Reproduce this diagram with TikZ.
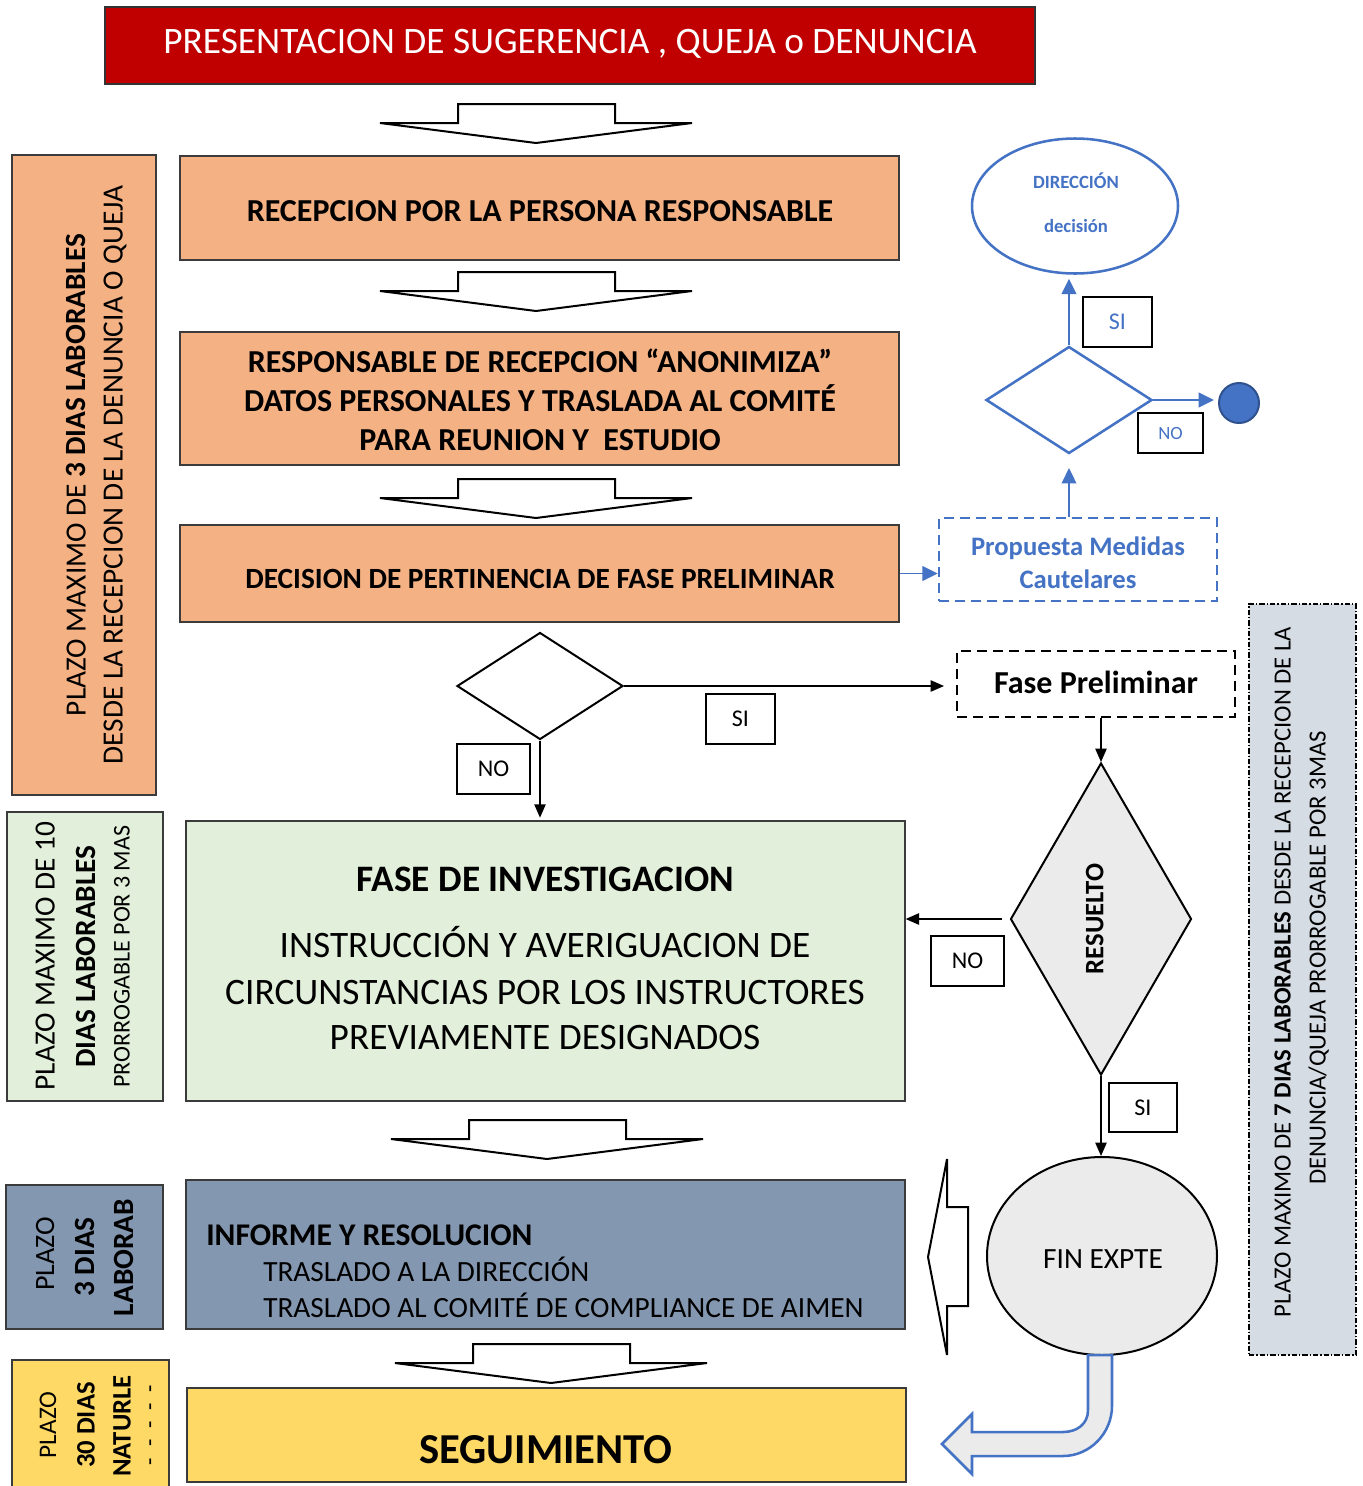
\documentclass[tikz,border=0pt]{standalone}
\usepackage{fontspec}
\setmainfont{Carlito}
\usetikzlibrary{shapes.geometric,arrows.meta,fit,calc}
\definecolor{tred}{HTML}{C00000}
\definecolor{torange}{HTML}{F4B183}
\definecolor{tgreen}{HTML}{E2EFDA}
\definecolor{tslate}{HTML}{8497B0}
\definecolor{tyellow}{HTML}{FFD966}
\definecolor{tgrey}{HTML}{EBEBEB}
\definecolor{tlav}{HTML}{D6DCE4}
\definecolor{tblue}{HTML}{4472C4}
\definecolor{tdblue}{HTML}{2F528F}
\definecolor{tedge}{HTML}{3B3B3B}
\newcommand\fsz[1]{\fontsize{#1}{#1}\selectfont}
\newcommand\blockdown[2]{%
  \draw[blockarrow] (#1+78,#2) -- (#1+235,#2) -- (#1+235,#2+19) -- (#1+312,#2+19)
    -- (#1+156,#2+39) -- (#1,#2+19) -- (#1+78,#2+19) -- cycle;}
\tikzset{
  box/.style={draw=tedge, line width=1pt, inner sep=0pt},
  txt/.style={inner sep=0pt, anchor=base},
  ctxt/.style={inner sep=0pt, anchor=center},
  vtxt/.style={inner sep=0pt, anchor=base, rotate=90},
  tag/.style={draw=black, line width=1pt, fill=white, inner sep=0pt},
  conn/.style={line width=1pt, -{Triangle[length=10pt,width=8.5pt]}},
  bconn/.style={draw=tblue, line width=1.3pt, -{Triangle[length=11.5pt,width=11pt]}},
  blockarrow/.style={draw=black, fill=white, line width=1.5pt, line join=miter},
  dsize/.style 2 args={minimum width=#1*0.75pt, minimum height=#2*0.75pt},
}
\begin{document}
\begin{tikzpicture}[x=0.75pt,y=-0.75pt]
\useasboundingbox[fill=white] (0,0) rectangle (1363,1486);

% ---------- title ----------
\node[box, draw=black!80, fill=tred, fit={(105,7) (1035,84)}] (title) {};
\node[txt, text=white, font=\fsz{28}] (titlet) at (570,53.5) {PRESENTACION DE SUGERENCIA , QUEJA o DENUNCIA};

% ---------- block arrows ----------
\blockdown{380}{104}
\blockdown{380}{272}
\blockdown{380}{479}
\blockdown{391}{1120}
\blockdown{395}{1344}

% ---------- orange boxes ----------
\node[box, fill=torange, fit={(180,156) (899,260)}] (b1) {};
\node[txt, font=\fsz{24}\bfseries] (b1t) at (540,221) {RECEPCION POR LA PERSONA RESPONSABLE};
\node[box, fill=torange, fit={(180,332) (899,465)}] (b2) {};
\node[txt, font=\fsz{24}\bfseries] (b2a) at (540,372) {RESPONSABLE DE RECEPCION “ANONIMIZA”};
\node[txt, font=\fsz{24}\bfseries] (b2b) at (540,411) {DATOS PERSONALES Y TRASLADA AL COMITÉ};
\node[txt, font=\fsz{24}\bfseries] (b2c) at (540,450) {PARA REUNION Y\ \ ESTUDIO};
\node[box, fill=torange, fit={(180,525) (899,622)}] (b3) {};
\node[txt, font=\fsz{22}\bfseries] (b3t) at (540,588) {DECISION DE PERTINENCIA DE FASE PRELIMINAR};

% ---------- left orange ----------
\node[box, fill=torange, fit={(12,155) (156,795)}] (lor) {};
\node[vtxt, font=\fsz{22}] (lor1) at (85.5,475) {PLAZO MAXIMO DE \textbf{3 DIAS LABORABLES}};
\node[vtxt, font=\fsz{22}] (lor2) at (122.5,475) {DESDE LA RECEPCION DE LA DENUNCIA O QUEJA};

% ---------- first decision ----------
\node[diamond, draw, line width=1.5pt, fill=white, inner sep=0pt, dsize={166}{107}] (d1) at (540,686) {};
\node[tag, fit={(706,694) (775,744)}] (si1) {};
\node[ctxt, font=\fsz{18}] (si1t) at (si1.center) {SI};
\node[tag, fit={(457,744) (530,794)}] (no1) {};
\node[ctxt, font=\fsz{18}] (no1t) at (no1.center) {NO};

% ---------- fase preliminar ----------
\node[draw, line width=1.5pt, dash pattern=on 7.5pt off 4.5pt, inner sep=0pt,
      fit={(957,651) (1235,717)}] (fp) {};
\node[txt, font=\fsz{24}\bfseries] (fpt) at (1096,693) {Fase Preliminar};

% ---------- resuelto ----------
\node[diamond, draw, line width=1.5pt, fill=tgrey, inner sep=0pt, dsize={181}{312}] (res) at (1101,919) {};
\node[vtxt, font=\fsz{20}\bfseries] (rest) at (1103.4,919) {RESUELTO};
\node[tag, fit={(931,936) (1004,986)}] (no2) {};
\node[ctxt, font=\fsz{18}] (no2t) at (no2.center) {NO};
\node[tag, fit={(1109,1083) (1177,1132)}] (si2) {};
\node[ctxt, font=\fsz{18}] (si2t) at (si2.center) {SI};

% ---------- investigacion ----------
\node[box, fill=tgreen, fit={(186,821) (905,1101)}] (inv) {};
\node[txt, font=\fsz{28}\bfseries] (invt) at (545.5,891) {FASE DE INVESTIGACION};
\node[txt, font=\fsz{28}] (inv1) at (545,957) {INSTRUCCIÓN Y AVERIGUACION DE};
\node[txt, font=\fsz{28}] (inv2) at (545,1004) {CIRCUNSTANCIAS POR LOS INSTRUCTORES};
\node[txt, font=\fsz{28}] (inv3) at (545,1049) {PREVIAMENTE DESIGNADOS};
\node[box, fill=tgreen, fit={(7,812) (163,1101)}] (lgr) {};
\node[vtxt, font=\fsz{22}] (lgr1) at (54.5,956) {PLAZO MAXIMO DE 10};
\node[vtxt, font=\fsz{22}\bfseries] (lgr2) at (95.5,956.5) {DIAS LABORABLES};
\node[vtxt, font=\fsz{18}] (lgr3) at (129.7,956.5) {PRORROGABLE POR 3 MAS};

% ---------- informe ----------
\node[box, fill=tslate, fit={(186,1180) (905,1329)}] (inf) {};
\node[txt, anchor=base west, font=\fsz{23.7}\bfseries] (inft) at (206,1245) {INFORME Y RESOLUCION};
\node[txt, anchor=base west, font=\fsz{22}] (inf1) at (263,1281) {TRASLADO A LA DIRECCIÓN};
\node[txt, anchor=base west, font=\fsz{22}] (inf2) at (263,1317) {TRASLADO AL COMITÉ DE COMPLIANCE DE AIMEN};
\node[box, fill=tslate, fit={(6,1185) (163,1329)}] (lbl) {};
\node[vtxt, font=\fsz{21}] (lbl1) at (54,1254) {PLAZO};
\node[vtxt, font=\fsz{22}\bfseries] (lbl2) at (94.5,1257) {3 DIAS};
\node[vtxt, font=\fsz{22}\bfseries] (lbl3) at (133.5,1257.5) {LABORAB};

% ---------- seguimiento ----------
\node[box, fill=tyellow, fit={(187,1388) (906,1482)}] (seg) {};
\node[txt, font=\fsz{32}\bfseries] (segt) at (546,1463) {SEGUIMIENTO};
\node[box, fill=tyellow, fit={(12,1360) (169,1500)}] (lye) {};
\node[vtxt, font=\fsz{19}] (lye1) at (56,1425) {PLAZO};
\node[vtxt, font=\fsz{20}\bfseries] (lye2) at (94.5,1425) {30 DIAS};
\node[vtxt, font=\fsz{20}\bfseries] (lye3) at (130.5,1426) {NATURLE};
\node[vtxt, font=\fsz{18}] (lye4) at (157,1425) {-\ \ -\ \ -\ \ -\ \ -};

% ---------- right vertical ----------
\node[draw, line width=1pt, dash pattern=on 4pt off 1.5pt on 1pt off 1.5pt, fill=tlav, inner sep=0pt,
      fit={(1249,604) (1356,1355)}] (rv) {};
\node[vtxt, font=\fsz{18.5}] (rv1) at (1290.7,972) {PLAZO MAXIMO DE \textbf{7 DIAS LABORABLES} DESDE LA RECEPCION DE LA};
\node[vtxt, font=\fsz{18.5}] (rv2) at (1325.7,958) {DENUNCIA/QUEJA PRORROGABLE POR 3MAS};

% ---------- fin expte ----------
\node[ellipse, draw, line width=1.5pt, fill=tgrey, inner sep=0pt, dsize={230}{198}] (fin) at (1102,1256) {};
\node[txt, font=\fsz{22}] (fint) at (1103,1268) {FIN EXPTE};
\draw[blockarrow] (947,1159) -- (947,1207) -- (968,1207) -- (968,1306) -- (947,1306) -- (947,1355) -- (928,1257) -- cycle;
\draw[draw=tblue, fill=tgrey, line width=1.9pt, line join=miter]
  (1088,1355) -- (1088,1410) .. controls (1088,1424) and (1077,1432) .. (1063,1432)
  -- (972,1432) -- (972,1414) -- (942,1444) -- (972,1474) -- (972,1456) -- (1063,1456)
  .. controls (1090,1456) and (1112,1433) .. (1112,1406) -- (1112,1355) -- cycle;

% ---------- blue cluster ----------
\node[ellipse, draw=tblue, line width=1.9pt, fill=white, inner sep=0pt, dsize={206}{135}] (dir) at (1075,206) {};
\node[txt, text=tblue, font=\fsz{14}\bfseries] (dirt1) at (1076,188) {DIRECCIÓN};
\node[txt, text=tblue, font=\fsz{14}\bfseries] (dirt2) at (1076,232) {decisión};
\node[diamond, draw=tblue, line width=1.9pt, fill=white, inner sep=0pt, dsize={166}{107}] (d2) at (1069,400) {};
\node[tag, fit={(1083,297) (1152,347)}] (si3) {};
\node[ctxt, text=tblue, font=\fsz{18}] (si3t) at (si3.center) {SI};
\node[tag, fit={(1138,413) (1203,453)}] (no3) {};
\node[ctxt, text=tblue, font=\fsz{14}] (no3t) at (no3.center) {NO};
\node[circle, draw=tdblue, line width=1.5pt, fill=tblue, inner sep=0pt, minimum size=30pt] (dot) at (1239,403) {};
\node[draw=tblue, line width=1.9pt, dash pattern=on 7.5pt off 4.5pt, inner sep=0pt, fit={(939,518) (1217,601)}] (prop) {};
\node[txt, text=tblue, font=\fsz{20}\bfseries] (prop1) at (1078,555.5) {Propuesta Medidas};
\node[txt, text=tblue, font=\fsz{20}\bfseries] (prop2) at (1078,588.5) {Cautelares};

% ---------- connectors ----------
\draw[conn, shorten >=9pt] (d1.east) -- (d1.east -| fp.west);
\draw[conn, shorten >=2pt] (d1.south) -- (d1.south |- inv.north);
\draw[conn] (res.north |- fp.south) -- (res.north);
\draw[conn, shorten <=6pt] (res.west) -- (res.west -| inv.east);
\draw[conn] (res.south) -- (res.south |- fin.north);
\draw[bconn] (b3.east) -- (b3.east -| prop.west);
\draw[bconn, shorten >=10pt] (d2.south |- prop.north) -- (d2.south);
\draw[bconn, shorten >=3pt] (d2.north) -- (d2.north |- dir.south);
\draw[bconn, shorten >=3pt] (d2.east) -- (d2.east -| dot.west);
\end{tikzpicture}
\end{document}
